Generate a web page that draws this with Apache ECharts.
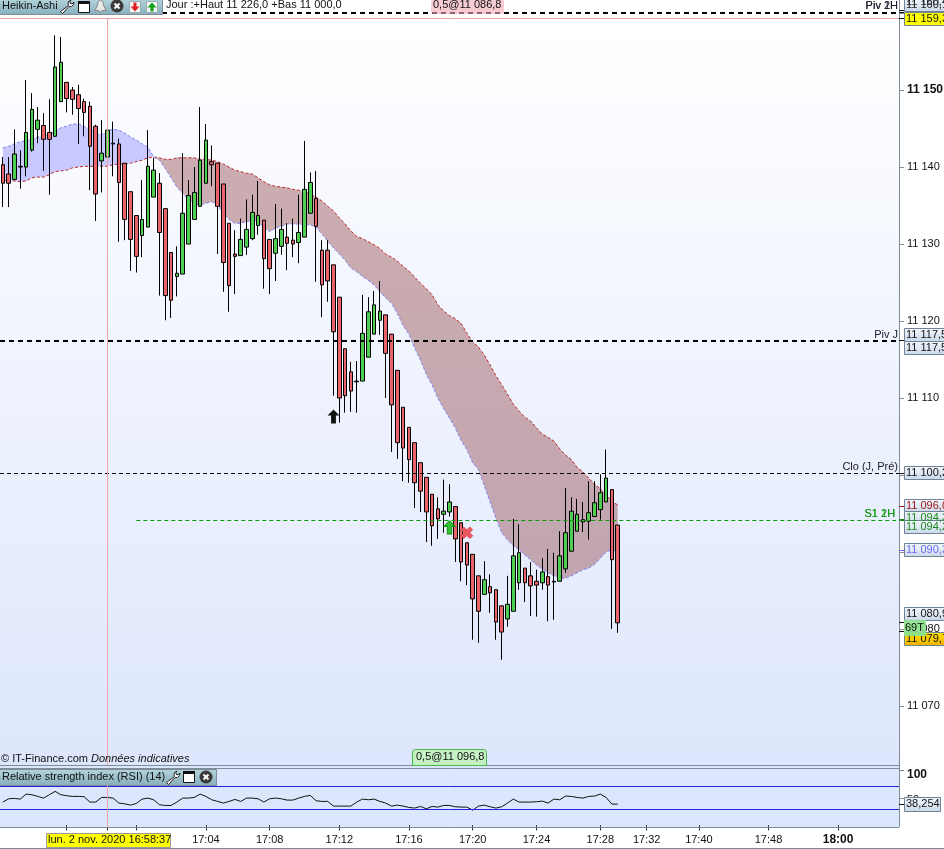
<!DOCTYPE html>
<html>
<head>
<meta charset="utf-8">
<style>html,body{margin:0;padding:0;background:#fff}#c{width:944px;height:849px}</style>
<script src="https://cdn.jsdelivr.net/npm/echarts@6/dist/echarts.min.js"></script>
</head>
<body>
<div id="c"></div>
<script>
const opens = [11140.3,11139.1,11138.4,11140.1,11140.0,11142.2,11144.9,11145.4,11144.5,11144.0,11148.5,11151.0,11150.0,11149.4,11148.5,11147.9,11145.3,11140.8,11141.3,11143.1,11143.0,11140.5,11136.8,11133.7,11131.1,11132.2,11136.1,11137.9,11134.6,11128.9,11125.8,11126.1,11130.0,11133.2,11134.9,11137.9,11140.7,11140.5,11137.8,11132.7,11128.7,11128.5,11129.6,11130.7,11132.4,11133.1,11130.6,11128.8,11129.7,11130.9,11130.5,11130.2,11130.9,11134.0,11135.9,11129.2,11129.2,11127.3,11123.1,11116.4,11113.4,11112.2,11112.2,11115.3,11118.3,11120.1,11120.8,11118.3,11113.6,11108.8,11106.2,11104.2,11101.6,11099.7,11097.5,11095.6,11094.9,11095.2,11095.9,11093.8,11091.2,11089.7,11086.9,11084.5,11085.5,11085.1,11083.0,11081.3,11082.3,11086.0,11087.9,11086.9,11086.2,11086.0,11086.8,11086.2,11086.2,11087.8,11090.1,11092.7,11093.9,11094.0,11094.6,11095.5,11096.5,11098.1,11093.5];
const closes = [11137.9,11137.9,11141.7,11140.0,11144.5,11147.5,11146.1,11143.6,11143.6,11153.0,11153.6,11148.9,11148.8,11147.6,11147.1,11142.7,11136.5,11141.8,11144.8,11143.0,11138.0,11133.2,11130.6,11128.4,11133.2,11140.1,11139.6,11131.5,11123.3,11122.7,11126.2,11134.0,11136.3,11136.7,11140.9,11143.5,11140.3,11134.9,11127.6,11124.6,11128.4,11130.6,11131.9,11134.1,11133.7,11128.1,11126.8,11130.7,11131.9,11130.1,11130.0,11131.5,11137.1,11138.0,11132.3,11124.7,11125.2,11118.6,11110.0,11110.3,11110.9,11112.1,11118.4,11121.2,11122.1,11121.3,11115.8,11109.1,11104.2,11103.5,11102.0,11099.0,11097.9,11095.2,11093.4,11094.3,11095.3,11096.5,11091.7,11088.7,11088.3,11083.9,11082.3,11086.4,11084.7,11080.9,11079.6,11083.2,11089.5,11089.9,11086.0,11085.6,11085.7,11087.4,11085.7,11086.1,11089.5,11092.5,11095.3,11094.9,11094.2,11095.1,11096.4,11097.7,11099.6,11089.0,11080.8];
const lows = [11134.8,11134.8,11138.3,11137.2,11138.8,11142.0,11143.1,11139.5,11136.4,11143.9,11148.5,11147.1,11146.8,11143.0,11144.0,11137.0,11133.0,11136.7,11140.5,11138.8,11130.3,11130.5,11126.5,11126.3,11128.3,11132.2,11136.1,11123.3,11120.1,11120.4,11123.2,11126.1,11130.0,11133.2,11134.9,11137.9,11137.5,11128.7,11123.8,11121.2,11123.5,11128.5,11128.6,11130.5,11131.2,11124.2,11123.5,11125.2,11128.6,11126.6,11128.3,11127.5,11130.9,11134.0,11125.1,11120.5,11122.5,11110.3,11106.8,11108.1,11108.2,11108.1,11112.2,11115.3,11118.3,11118.2,11110.0,11103.0,11102.1,11099.2,11099.0,11095.7,11095.2,11091.3,11090.8,11091.7,11092.5,11094.6,11088.7,11086.2,11085.7,11078.6,11078.2,11084.5,11082.1,11078.6,11076.0,11080.3,11082.3,11085.1,11083.5,11081.7,11081.6,11085.1,11081.0,11081.2,11086.2,11087.3,11090.1,11092.7,11092.6,11091.6,11094.6,11094.2,11096.5,11080.0,11079.5];
const highs = [11141.3,11141.3,11144.9,11142.2,11151.3,11149.6,11147.8,11147.0,11148.8,11157.1,11156.9,11151.0,11150.4,11150.7,11148.9,11148.5,11145.5,11146.1,11147.4,11145.9,11143.7,11140.5,11136.8,11133.7,11138.3,11144.8,11141.2,11139.2,11134.6,11128.9,11129.7,11141.8,11138.3,11140.0,11147.8,11145.6,11142.8,11140.5,11137.8,11132.7,11131.8,11133.3,11135.8,11136.4,11138.2,11133.1,11130.6,11135.2,11134.6,11132.7,11133.3,11136.4,11143.4,11139.3,11139.5,11130.5,11130.5,11127.3,11123.1,11116.4,11114.7,11114.8,11123.4,11123.1,11123.9,11125.2,11120.8,11118.3,11113.6,11108.8,11106.2,11104.2,11101.6,11099.7,11097.5,11097.1,11099.4,11098.8,11095.9,11093.8,11091.2,11089.7,11086.9,11088.8,11087.1,11085.1,11083.0,11086.9,11094.3,11093.6,11087.9,11088.7,11087.7,11089.2,11090.4,11089.9,11092.7,11098.3,11097.1,11096.9,11096.5,11099.2,11099.2,11100.1,11103.3,11098.1,11093.5];

const cloudRed = [11138.3,11138.2,11138.2,11138.1,11138.2,11138.6,11138.7,11138.7,11139.0,11139.4,11139.5,11139.6,11139.9,11140.0,11140.1,11140.1,11140.1,11140.1,11140.1,11140.3,11140.4,11140.4,11140.5,11140.7,11140.9,11141.2,11141.3,11141.2,11141.0,11141.0,11141.2,11141.2,11141.2,11141.2,11141.0,11141.0,11140.9,11140.7,11140.4,11140.0,11139.6,11139.4,11139.2,11139.1,11138.6,11138.1,11137.7,11137.5,11137.4,11137.3,11137.1,11137.0,11136.8,11136.5,11136.1,11135.6,11134.9,11134.3,11133.4,11132.6,11131.7,11131.0,11130.7,11130.3,11129.9,11129.4,11128.7,11128.3,11127.8,11127.1,11126.5,11125.7,11124.9,11124.2,11123.4,11122.1,11121.3,11120.7,11120.3,11119.7,11118.4,11117.3,11116.6,11115.6,11114.3,11112.9,11111.7,11110.5,11109.2,11108.3,11107.5,11107.0,11106.1,11105.3,11104.9,11104.4,11103.4,11102.6,11102.0,11101.0,11100.4,11099.6,11098.8,11098.2,11097.4,11096.6,11096.1];
const cloudBlue = [11142.5,11142.7,11143.0,11143.3,11143.4,11143.6,11143.9,11144.0,11144.2,11144.7,11145.1,11145.3,11145.6,11145.6,11145.3,11144.9,11144.4,11144.2,11144.7,11144.9,11144.8,11144.4,11143.9,11143.5,11143.0,11142.6,11141.3,11140.9,11139.8,11138.6,11137.4,11136.6,11135.8,11135.2,11135.1,11135.3,11135.5,11135.1,11134.0,11133.2,11132.7,11132.7,11132.9,11133.1,11132.9,11132.2,11131.6,11132.1,11132.3,11132.6,11132.6,11132.6,11132.5,11132.5,11132.2,11131.3,11130.4,11129.5,11128.7,11127.9,11126.9,11126.4,11125.8,11125.3,11124.7,11123.8,11123.0,11122.3,11121.0,11119.4,11118.3,11116.5,11114.9,11113.1,11111.7,11110.0,11108.6,11107.4,11106.1,11104.5,11103.3,11101.6,11100.7,11098.6,11096.5,11094.4,11092.5,11091.6,11090.8,11090.3,11089.6,11089.0,11088.3,11087.8,11087.3,11086.9,11086.6,11086.6,11086.9,11087.3,11087.7,11087.9,11088.4,11089.2,11090.0,11090.3,11090.1];
const rsiValues = [42.2,48.2,48.8,47.6,56.7,55.5,52.5,49.4,55.5,61.6,55.5,53.7,52.5,52.5,51.9,42.2,42.2,50.6,50.6,49.4,40.4,39.1,36.7,39.7,47.6,49.4,46.4,37.3,36.1,36.1,42.2,49.4,49.4,50.6,56.7,52.5,46.4,43.4,40.4,43.4,47.0,43.4,49.4,49.4,48.2,42.2,48.2,49.4,48.2,45.8,45.8,49.4,52.5,54.3,44.6,43.4,43.4,34.9,34.9,34.9,34.9,42.2,47.6,46.4,47.6,43.4,40.4,34.9,36.7,34.9,32.5,31.3,34.3,30.0,34.3,33.1,36.1,36.1,33.7,33.1,33.1,27.6,34.9,36.7,33.7,31.3,33.7,40.4,47.6,42.2,42.2,42.2,42.8,44.0,40.4,47.6,46.4,53.1,52.5,50.6,49.4,52.5,53.1,56.7,50.6,38.5,38.5];

// time axis is tick based: 155 slots, only some carry a tick/label
const slotCount = 155;
const tickSlots = [11,18,23,35,46,58,70,81,92,103,111,120,132,144];
const tickTexts = ['','','','17:04','17:08','17:12','17:16','17:20','17:24','17:28','17:32','17:40','17:48','18:00'];
const crossSlot = 18;
const crossPrice = 11159.3;

const levelPrices = [11160.1, 11117.4, 11100.2];
const levelLabels = ['Piv 2H', 'Piv J', 'Clo (J, Pré)'];
const levelOverprint = ['Piv 1H', '', ''];
const s1Price = 11094.1;
const s1StartSlot = 23;

const priceMin = 11062.2;
const priceMax = 11161.7;
const priceTicks = [11070,11080,11090,11100,11110,11120,11130,11140,11150,11160];
const tagPrices = [11160.4,11160.1,11159.3,11117.5,11117.5,11100.2,11096.0,11094.3,11094.2,11090.3,11080.9,11079.7];
const tagTexts = ['11 160,4','11 160,1','11 159,3','11 117,5','11 117,5','11 100,2','11 096,0','11 094,3','11 094,2','11 090,3','11 080,9','11 079,7'];
// how far each tag is pushed from its price so that the stack stays readable
const tagNudge = [-8,-7,1,-5,8,0,0,-1,7,0,-8,8];
const tagInk = ['#222','#222','#111','#111','#111','#111','#a01818','#1a8a1a','#1a8a1a','#6a6af0','#111','#111'];
const plainFill = {type:'linear',x:0,y:0,x2:0,y2:1,colorStops:[{offset:0,color:'#f4f8fd'},{offset:1,color:'#c9d8ea'}]};
const orangeFill = {type:'linear',x:0,y:0,x2:0,y2:1,colorStops:[{offset:0,color:'#ffe600'},{offset:1,color:'#f2ae00'}]};
const tagFill = [plainFill,plainFill,'#ffff00',plainFill,plainFill,plainFill,plainFill,plainFill,plainFill,plainFill,plainFill,orangeFill];

const rsiTicks = [50,100];
const rsiLast = 38.254;
const signalUp = [[57,11107.6]];
const buyUp = [[77,11093.2]];
const cancelX = [[80,11092.5]];

const font = '"Liberation Sans", Arial, sans-serif';
const axisGrey = '#7d8c98';
const crossPink = '#f2a3a3';

const slots = [];
for (let i = 0; i < slotCount; i++) {
  const t = tickSlots.indexOf(i);
  slots.push(t >= 0 ? tickTexts[t] : ' ');
}
const candleData = opens.map((o, i) => [o, closes[i], lows[i], highs[i]]);
// blue on top up to slot 26, red on top afterwards
const cloudRuns = [[0, 26, 'rgba(170,170,255,0.62)'], [26, 106, 'rgba(150,80,85,0.46)']];

const levelLine = (price, label, width, dash) => ({
  yAxis: price,
  lineStyle: {color: '#000', width: width, type: dash},
  label: {show: !!label, formatter: label, position: 'insideEndTop', color: '#1a1a2a', fontFamily: font, fontSize: 11, distance: 1, padding: 0}
});

const chart = echarts.init(document.getElementById('c'), null, {renderer: 'canvas'});
chart.setOption({
  animation: false,
  backgroundColor: '#fff',
  textStyle: {fontFamily: font},
  grid: [
    {left: 0, width: 899, top: 0, height: 766, outerBoundsMode: 'none'},
    {left: 0, width: 899, top: 768, height: 59, outerBoundsMode: 'none'}
  ],
  xAxis: [
    {type: 'category', gridIndex: 0, data: slots, show: false},
    {
      type: 'category', gridIndex: 1, data: slots, position: 'bottom',
      axisLine: {show: false},
      axisTick: {show: true, alignWithLabel: true, length: 5, lineStyle: {color: '#222'}, interval: (i) => tickSlots.includes(i)},
      axisLabel: {
        show: true, margin: 7, color: '#111', fontSize: 11, fontFamily: font,
        interval: (i) => tickSlots.includes(i),
        formatter: (v) => v === '18:00' ? '{b|18:00}' : v,
        rich: {b: {fontWeight: 'bold', fontSize: 12, color: '#111', fontFamily: font}}
      }
    }
  ],
  yAxis: [
    {
      type: 'value', gridIndex: 0, position: 'right', min: priceMin, max: priceMax,
      splitLine: {show: false},
      axisLine: {show: false},
      axisTick: {show: true, length: 5, lineStyle: {color: axisGrey}, customValues: priceTicks},
      axisLabel: {
        show: true, margin: 8, color: '#111', fontSize: 11, fontFamily: font,
        customValues: priceTicks,
        formatter: (v) => {
          const s = '11 ' + String(v).slice(2);
          return v === 11150 ? '{b|' + s + '}' : s;
        },
        rich: {b: {fontWeight: 'bold', fontSize: 12, color: '#111', fontFamily: font}}
      }
    },
    {
      type: 'value', gridIndex: 1, position: 'right', min: -3, max: 104,
      splitLine: {show: false},
      axisLine: {show: false},
      axisTick: {show: true, length: 5, lineStyle: {color: axisGrey}, customValues: rsiTicks},
      axisLabel: {
        show: true, margin: 8, color: '#111', fontSize: 11, fontFamily: font, padding: [4, 0, 0, 0],
        customValues: rsiTicks,
        formatter: (v) => v === 100 ? '{b|100}' : String(v),
        rich: {b: {fontWeight: 'bold', fontSize: 12, color: '#111', fontFamily: font, padding: [4, 0, 0, 0]}}
      }
    }
  ],
  series: [
    {
      type: 'custom', name: 'cloud', z: 1, silent: true, clip: true,
      xAxisIndex: 0, yAxisIndex: 0,
      data: [[0, cloudRed[0]], [26, cloudRed[26]]],
      encode: {x: 0, y: 1},
      renderItem: (params, api) => {
        const run = cloudRuns[params.dataIndex];
        const pts = [];
        for (let i = run[0]; i <= run[1]; i++) pts.push(api.coord([i, cloudRed[i]]));
        for (let i = run[1]; i >= run[0]; i--) pts.push(api.coord([i, cloudBlue[i]]));
        return {type: 'polygon', shape: {points: pts}, style: {fill: run[2]}};
      }
    },
    {
      type: 'line', name: 'red', data: cloudRed, z: 2, silent: true, showSymbol: false,
      xAxisIndex: 0, yAxisIndex: 0,
      lineStyle: {color: '#c02828', width: 1, type: [3, 2]}
    },
    {
      type: 'line', name: 'blue', data: cloudBlue, z: 2, silent: true, showSymbol: false,
      xAxisIndex: 0, yAxisIndex: 0,
      lineStyle: {color: '#8080f4', width: 1, type: [3, 2]}
    },
    {
      type: 'candlestick', name: 'Heikin-Ashi', data: candleData, z: 3, silent: true,
      xAxisIndex: 0, yAxisIndex: 0, barWidth: 4,
      itemStyle: {color: '#4fcf4f', color0: '#e8646a', borderColor: '#000', borderColor0: '#000', borderWidth: 1},
      markLine: {
        silent: true, symbol: 'none', z: 5,
        data: [
          levelLine(levelPrices[0], levelLabels[0], 2, [5, 4]),
          levelLine(levelPrices[0], levelOverprint[0], 0.01, 'solid'),
          levelLine(levelPrices[1], levelLabels[1], 2, [5, 4]),
          levelLine(levelPrices[2], levelLabels[2], 1, [4, 3]),
          [
            {coord: [s1StartSlot, s1Price], lineStyle: {color: '#0a9a0a', width: 1, type: [4, 3]},
             label: {show: true, formatter: 'S1 2H', position: 'insideEndTop', color: '#1a9a1a', fontFamily: font, fontSize: 11, distance: 1}},
            {coord: [slotCount - 1, s1Price]}
          ],
          [
            {coord: [slotCount - 12, s1Price], lineStyle: {color: '#0a9a0a', width: 0.01},
             label: {show: true, formatter: 'S1 1H', position: 'insideEndTop', color: '#1a9a1a', fontFamily: font, fontSize: 11, distance: 1}},
            {coord: [slotCount - 1, s1Price]}
          ],
          {yAxis: crossPrice, lineStyle: {color: crossPink, width: 1, type: 'solid'}, label: {show: false}},
          [
            {coord: [crossSlot, crossPrice], lineStyle: {color: crossPink, width: 1, type: 'solid'}, label: {show: false}},
            {coord: [crossSlot, priceMin]}
          ]
        ]
      }
    },
    {
      type: 'scatter', data: signalUp, z: 6, silent: true, symbol: 'path://M5 0L10 5.5H7V13H3V5.5H0Z', symbolSize: [12, 14],
      itemStyle: {color: '#111', opacity: 1}
    },
    {
      type: 'scatter', data: buyUp, z: 6, silent: true, symbol: 'path://M5 0L10 5.5H7V13H3V5.5H0Z', symbolSize: [11, 13],
      itemStyle: {color: '#35c035', borderColor: '#0f8f0f', borderWidth: 1, opacity: 1}
    },
    {
      type: 'scatter', data: cancelX, z: 6, silent: true,
      symbol: 'path://M3 0L6 3L9 0L12 3L9 6L12 9L9 12L6 9L3 12L0 9L3 6L0 3Z', symbolSize: 12,
      itemStyle: {color: '#e8585e', borderColor: '#d04048', borderWidth: 0.5, opacity: 1}
    },
    {
      type: 'line', name: 'RSI', data: rsiValues, z: 3, silent: true, showSymbol: false,
      xAxisIndex: 1, yAxisIndex: 1,
      lineStyle: {color: '#111', width: 1},
      markLine: {
        silent: true, symbol: 'none', label: {show: false},
        data: [
          {yAxis: 70, lineStyle: {color: '#2222d8', width: 1, type: 'solid'}},
          {yAxis: 30, lineStyle: {color: '#2222d8', width: 1, type: 'solid'}},
          {xAxis: crossSlot, lineStyle: {color: crossPink, width: 1, type: 'solid'}}
        ]
      }
    }
  ]
});

// window chrome: panel backgrounds, borders, toolbars, price tags
const toolbarFill = {type:'linear',x:0,y:0,x2:0,y2:1,colorStops:[{offset:0,color:'#b4d4dc'},{offset:1,color:'#86aebb'}]};
const label = (x, y, text, extra) => ({
  type: 'text', z: 101, x: x, y: y,
  style: Object.assign({text: text, fill: '#111', font: '11px ' + font, verticalAlign: 'middle'}, extra || {})
});
const box = (x, y, w, h, fill, stroke, z) => ({
  type: 'rect', z: z === undefined ? 100 : z,
  shape: {x: x + 0.5, y: y + 0.5, width: w, height: h},
  style: {fill: fill, stroke: stroke, lineWidth: 1}
});
const hline = (x1, x2, y, color, z) => ({
  type: 'line', z: z === undefined ? 100 : z,
  shape: {x1: x1, y1: y + 0.5, x2: x2, y2: y + 0.5},
  style: {stroke: color, lineWidth: 1}
});
const shapeAt = (x, y, pts, style, z) => ({
  type: 'polygon', z: z || 101, x: x, y: y, shape: {points: pts}, style: style
});
const wrench = (x, y) => shapeAt(x, y,
  [[11,0],[8.5,1.5],[8,4],[8.5,5.5],[0.5,11.5],[2.5,13.5],[9,6.5],[11.5,6.5],[13.5,4.5],[14,2],[12,4],[10,3],[10,1.5]],
  {fill: '#fff', stroke: '#222', lineWidth: 1});
const windowIcon = (x, y) => [
  box(x, y, 11, 11, '#fff', '#111', 101),
  {type: 'rect', z: 101, shape: {x: x, y: y, width: 12, height: 3}, style: {fill: '#111'}}
];
const closeIcon = (x, y) => [
  {type: 'circle', z: 101, shape: {cx: x, cy: y, r: 6.5}, style: {fill: '#3a3a3a'}},
  {type: 'line', z: 102, shape: {x1: x - 2.5, y1: y - 2.5, x2: x + 2.5, y2: y + 2.5}, style: {stroke: '#fff', lineWidth: 2}},
  {type: 'line', z: 102, shape: {x1: x + 2.5, y1: y - 2.5, x2: x - 2.5, y2: y + 2.5}, style: {stroke: '#fff', lineWidth: 2}}
];
const bellIcon = (x, y) => shapeAt(x, y,
  [[6.5,0],[4,1.5],[3.5,5],[2,8.5],[0.5,10.5],[5,10.5],[6.5,13],[8,10.5],[12.5,10.5],[11,8.5],[9.5,5],[9,1.5]],
  {fill: '#e8e8e8', stroke: '#888', lineWidth: 1});
const arrowBox = (x, y, color, down) => [
  box(x, y, 11, 11, '#f2f4f6', '#9aa', 101),
  shapeAt(x + 1.5, y + 1.5,
    down ? [[3,0],[6,0],[6,4],[9,4],[4.5,9],[0,4],[3,4]] : [[4.5,0],[9,5],[6,5],[6,9],[3,9],[3,5],[0,5]],
    {fill: color}, 102)
];

const g = [];
g.push({
  type: 'rect', z: 0, shape: {x: 0, y: 0, width: 899, height: 766},
  style: {fill: {type:'linear',x:0,y:0,x2:0,y2:1,colorStops:[{offset:0,color:'#ffffff'},{offset:0.03,color:'#ffffff'},{offset:1,color:'#dde6fc'}]}}
});
g.push({type: 'rect', z: 0, shape: {x: 0, y: 766, width: 899, height: 61}, style: {fill: '#dce6fc'}});
g.push(hline(0, 899, 765, axisGrey), hline(0, 899, 768, axisGrey), hline(0, 899, 827, axisGrey), hline(0, 944, 848, axisGrey));
g.push({type: 'line', z: 100, shape: {x1: 899.5, y1: 0, x2: 899.5, y2: 827}, style: {stroke: axisGrey, lineWidth: 1}});

// price chart toolbar
g.push(box(-1, -1, 163, 15, toolbarFill, axisGrey));
g.push(label(2, 6, 'Heikin-Ashi'));
g.push(wrench(60, 0), ...windowIcon(78, 1), bellIcon(94, 0), ...closeIcon(117, 6), ...arrowBox(129, 1, '#e02020', true), ...arrowBox(146, 1, '#10a010', false));
g.push(label(166, 5, 'Jour :+Haut 11 226,0 +Bas 11 000,0'));

// order tags on the chart
g.push({type: 'rect', z: 100, shape: {x: 431, y: 0, width: 73, height: 14, r: 2}, style: {fill: 'rgba(240,170,180,0.6)'}});
g.push(label(433, 5, '0,5@11 086,8'));
g.push({type: 'rect', z: 100, shape: {x: 412.5, y: 749.5, width: 74, height: 16, r: [3, 3, 0, 0]}, style: {fill: '#c4f0c4', stroke: '#46b846', lineWidth: 1}});
g.push(label(416, 757, '0,5@11 096,8'));
g.push(label(1, 759, '© IT-Finance.com'));
g.push(label(91, 759, 'Données indicatives', {font: 'italic 11px ' + font}));

// RSI toolbar
g.push(box(-1, 769, 217, 16, toolbarFill, axisGrey));
g.push(label(2, 777, 'Relative strength index (RSI) (14)'));
g.push(wrench(166, 771), ...windowIcon(183, 771), ...closeIcon(206, 777));

// price tags in the right margin
tagPrices.forEach((p, i) => {
  const y = chart.convertToPixel({yAxisIndex: 0}, p);
  g.push(hline(899, 904, Math.round(y), tagInk[i] === '#111' || tagInk[i] === '#222' ? '#111' : tagInk[i]));
  const c = Math.round(y + tagNudge[i]);
  g.push(box(904, c - 7, 50, 13, tagFill[i], '#6f8296'));
  g.push(label(906, c, tagTexts[i], {fill: tagInk[i]}));
});
g.push({type: 'rect', z: 103, shape: {x: 904, y: 620, width: 22, height: 16}, style: {fill: 'rgba(140,226,140,0.92)'}});
g.push(Object.assign(label(905, 628, '69T'), {z: 104}));

// RSI value tag
const rsiY = Math.round(chart.convertToPixel({yAxisIndex: 1}, rsiLast));
g.push(hline(899, 904, rsiY, '#111'));
g.push(box(904, rsiY - 7, 36, 14, plainFill, '#6f8296'));
g.push(label(906, rsiY, String(rsiLast).replace('.', ',')));

// crosshair date tag
g.push(box(46, 833, 124, 14, '#ffff00', '#999'));
g.push(label(48, 840, 'lun. 2 nov. 2020 16:58:37'));

chart.setOption({graphic: {elements: g}});
</script>
</body>
</html>
